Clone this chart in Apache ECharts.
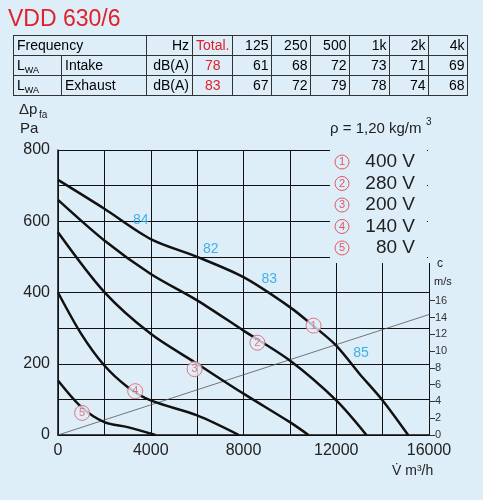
<!DOCTYPE html>
<html><head><meta charset="utf-8">
<script src="https://cdn.jsdelivr.net/npm/echarts@6/dist/echarts.min.js"></script>
<style>
body{margin:0;background:#deeef9;font-family:"Liberation Sans",Arial,sans-serif;}
#c{position:absolute;left:0;top:0;width:483px;height:500px;}
#t{position:absolute;left:8px;top:5px;color:#e0202a;font-size:23px;}
table{position:absolute;left:13px;top:35px;border-collapse:collapse;font-size:14px;font-family:"Liberation Sans Narrow","Liberation Sans",sans-serif;}
td{border:1px solid #333;height:19px;padding:0 3px;line-height:19px;}
sub{font-size:9px;line-height:0;vertical-align:-3px}
.r{text-align:right}.red{color:#e0202a}
</style></head><body>
<div id="c"></div>
<div id="t">VDD 630/6</div>
<table>
<tr><td colspan="2" style="width:126px">Frequency</td><td class="r" style="width:39px">Hz</td><td class="r red" style="width:32px">Total.</td><td class="r" style="width:32px">125</td><td class="r" style="width:32px">250</td><td class="r" style="width:32px">500</td><td class="r" style="width:33px">1k</td><td class="r" style="width:32px">2k</td><td class="r" style="width:32px">4k</td></tr>
<tr><td style="width:41px">L<sub>WA</sub></td><td>Intake</td><td class="r">dB(A)</td><td class="r red" style="text-align:center">78</td><td class="r">61</td><td class="r">68</td><td class="r">72</td><td class="r">73</td><td class="r">71</td><td class="r">69</td></tr>
<tr><td>L<sub>WA</sub></td><td>Exhaust</td><td class="r">dB(A)</td><td class="r red" style="text-align:center">83</td><td class="r">67</td><td class="r">72</td><td class="r">79</td><td class="r">78</td><td class="r">74</td><td class="r">68</td></tr>
</table>
<script>
const curve1=[[0,716],[2000,635],[4000,550],[6000,500],[8000,443],[10000,359],[11000,307],[12000,251],[13000,172],[14000,97],[15100,0]];
const curve2=[[0,660],[2000,546],[4000,452],[6000,378],[8000,293],[10000,209],[12000,97],[13300,0]];
const curve3=[[0,569],[2000,401],[4000,284],[6000,200],[8000,116],[10000,36],[10800,0]];
const curve4=[[0,400],[1000,284],[2000,195],[3000,135],[4000,97],[6000,55],[7800,0]];
const curve5=[[0,153],[1000,79],[2000,36],[3000,22],[4200,0]];
const velocity=[[0,0],[16000,14.35]];
const velTicks=[0,2,4,6,8,10,12,14,16];
const markers=[[11020,307,'1'],[8600,259,'2'],[5890,185,'3'],[3330,123,'4'],[1040,62,'5']];
const dbLabels=[[3570,602,'84'],[6590,523,'82'],[9110,438,'83'],[13070,231,'85']];
const legendItems=['400 V','280 V','200 V','140 V','80 V'];
const bg='#deeef9', pink='#e35560', blue='#1aa0e0';
const ch=echarts.init(document.getElementById('c'));
const curves=[curve1,curve2,curve3,curve4,curve5];
const series=curves.map(d=>({type:'line',data:d,smooth:0.3,symbol:'none',lineStyle:{color:'#111',width:2.5},yAxisIndex:0,z:3}));
series.push({type:'line',data:velocity,symbol:'none',lineStyle:{color:'#555',width:0.8},yAxisIndex:1,z:2});
series.push({type:'scatter',data:markers.map(m=>[m[0],m[1]]),symbol:'circle',symbolSize:15,itemStyle:{color:bg,borderColor:pink,borderWidth:1},
 label:{show:true,position:'inside',color:pink,fontSize:11,formatter:p=>markers[p.dataIndex][2]},z:5});
series.push({type:'scatter',data:dbLabels.map(m=>[m[0],m[1]]),symbolSize:0,
 label:{show:true,position:'inside',color:blue,fontSize:14,formatter:p=>dbLabels[p.dataIndex][2]},z:5});
const lg=[{type:'rect',left:330,top:150,shape:{width:97,height:113},style:{fill:bg},z:10},
 {type:'rect',left:428,top:150,shape:{width:4,height:113},style:{fill:bg},z:10}];
legendItems.forEach((s,i)=>{
 lg.push({type:'circle',shape:{cx:342,cy:162+i*21.5,r:7},style:{fill:bg,stroke:pink,lineWidth:1},z:11});
 lg.push({type:'text',x:342,y:162+i*21.5,style:{text:String(i+1),fill:pink,font:'11px Liberation Sans',align:'center',verticalAlign:'middle'},z:12});
 lg.push({type:'text',x:415,y:162+i*21.5,style:{text:s,fill:'#222',font:'19px Liberation Sans',align:'right',verticalAlign:'middle'},z:12});
});
const txt=(x,y,t,f,a)=>({type:'text',x,y,style:{text:t,fill:'#222',font:f||'15px Liberation Sans',align:a||'left',verticalAlign:'middle'},z:12});
lg.push(txt(19,110,'Δp','15px Liberation Sans'),txt(39,115,'fa','10px Liberation Sans'),txt(20,129,'Pa'),
 txt(330,129,'ρ = 1,20 kg/m','15px Liberation Sans'),txt(426,122,'3','10px Liberation Sans'),
 txt(437,264,'c','12px Liberation Sans'),txt(434,282,'m/s','11px Liberation Sans'),
 txt(392,471,'V̇ m³/h','14px Liberation Sans'));
ch.setOption({
 animation:false,
 grid:{left:58,right:54,top:150,bottom:65},
 xAxis:{type:'value',min:0,max:16000,interval:2000,
   axisLine:{lineStyle:{color:'#111',width:1.5}},axisTick:{show:false},
   splitLine:{lineStyle:{color:'#111',width:1}},
   axisLabel:{color:'#222',fontSize:16,margin:8,formatter:v=>v%4000===0?v:''}},
 yAxis:[{type:'value',min:0,max:800,interval:100,
   axisLine:{show:true,lineStyle:{color:'#111',width:1.5}},axisTick:{show:false},
   splitLine:{lineStyle:{color:'#111',width:1}},
   axisLabel:{color:'#222',fontSize:16,margin:8,formatter:v=>v%200===0?v:''}},
  {type:'value',min:0,max:33.95,position:'right',
   axisLine:{show:false},axisTick:{show:true,length:6,customValues:velTicks,lineStyle:{color:'#333'}},
   splitLine:{show:false},axisLabel:{color:'#333',fontSize:11,margin:6,customValues:velTicks}}],
 series,
 graphic:lg
});
</script></body></html>
